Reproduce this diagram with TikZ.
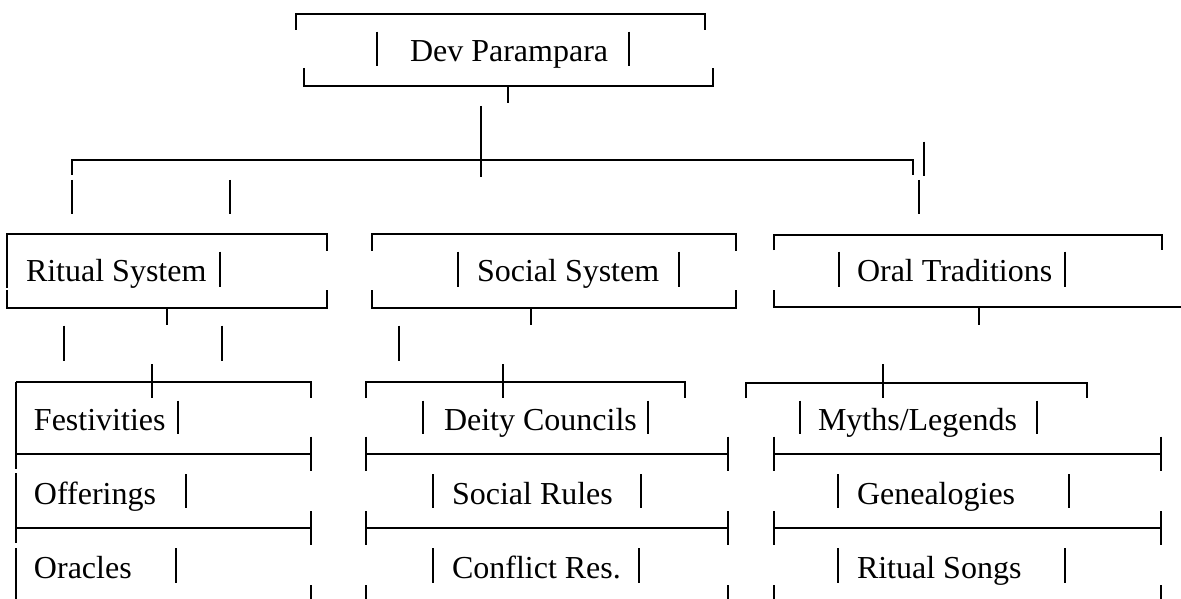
\documentclass[tikz,border=0pt]{standalone}
\usepackage{fontspec}
\setmainfont{Liberation Serif}
\begin{document}
\begin{tikzpicture}[x=1pt,y=-1pt,
  ln/.style={line width=1.7pt,line cap=butt,black},
  lbl/.style={anchor=base west,inner sep=0pt,outer sep=0pt,font=\fontsize{32}{38}\selectfont}]
\useasboundingbox (0,0) rectangle (1181,599);
% ---- texts
\node[lbl] (dev) at (410,62) {Dev Parampara};
\node[lbl] (ritual) at (26,281) {Ritual System};
\node[lbl] (social) at (477,281) {Social System};
\node[lbl] (oral) at (857,281) {Oral Traditions};
\node[lbl] (fest) at (34,430) {Festivities};
\node[lbl] (offer) at (34,504) {Offerings};
\node[lbl] (orac) at (34,578) {Oracles};
\node[lbl] (deity) at (444,430) {Deity Councils};
\node[lbl] (rules) at (452,504) {Social Rules};
\node[lbl] (confl) at (452,578) {Conflict Res.};
\node[lbl] (myths) at (818,430) {Myths/Legends};
\node[lbl] (geneal) at (857,504) {Genealogies};
\node[lbl] (songs) at (857,578) {Ritual Songs};
% ---- text bars
\foreach \x in {376.7,629} \draw[ln] (\x,31.7)--(\x,66);
\foreach \x in {220,458.3,679.3,839,1065} \draw[ln] (\x,251.7)--(\x,286.7);
\foreach \x in {178.3,423.3,648.3,800,1036.7} \draw[ln] (\x,400.7)--(\x,434);
\foreach \x in {186,432.7,641,838.3,1069.3} \draw[ln] (\x,474)--(\x,508);
\foreach \x in {175.7,432.7,639.3,838.3,1065} \draw[ln] (\x,548)--(\x,583);
% ---- top box
\draw[ln] (296,30)--(296,14)--(705,14)--(705,30);
\draw[ln] (304,68)--(304,86)--(713,86)--(713,68);
\draw[ln] (508.3,86)--(508.3,102.7);
\draw[ln] (480.7,106)--(480.7,176.7);
% ---- main branch line
\draw[ln] (72.3,175)--(72.3,160)--(912.7,160)--(912.7,175);
\draw[ln] (924,141.7)--(924,176);
\foreach \x in {72.3,230,919.3} \draw[ln] (\x,180)--(\x,214);
% ---- ritual box
\draw[ln] (7.3,288)--(7.3,234)--(326.7,234)--(326.7,250.7);
\draw[ln] (7.3,290)--(7.3,307.7)--(326.7,307.7)--(326.7,290);
\draw[ln] (166.7,307.7)--(166.7,325);
% ---- social box
\draw[ln] (372.3,250.7)--(372.3,234)--(736,234)--(736,250.7);
\draw[ln] (372.3,290)--(372.3,307.7)--(736,307.7)--(736,290);
\draw[ln] (530.7,307.7)--(530.7,325);
% ---- oral box
\draw[ln] (774.3,250)--(774.3,235)--(1161.7,235)--(1161.7,250);
\draw[ln] (774.3,290)--(774.3,307.3)--(1181,307.3);
\draw[ln] (979,307.3)--(979,325);
% ---- intermediate verticals
\foreach \x in {64.3,222.3,399} \draw[ln] (\x,325.7)--(\x,361);
\foreach \x in {152.3,502.7,883.3} \draw[ln] (\x,364)--(\x,398);
% ---- ritual list
\draw[ln] (16,381.7)--(311,381.7)--(311,398);
\draw[ln] (16,381.7)--(16,469.3);
\draw[ln] (16,473.3)--(16,543.3);
\draw[ln] (16,548.3)--(16,599);
\draw[ln] (16,454)--(311,454);
\draw[ln] (16,528.3)--(311,528.3);
\draw[ln] (311,436.7)--(311,470.7);
\draw[ln] (311,511)--(311,545);
\draw[ln] (311,585)--(311,599);
% ---- social list
\draw[ln] (366,398)--(366,381.7)--(685,381.7)--(685,398);
\draw[ln] (366,454)--(728.3,454);
\draw[ln] (366,528.3)--(728.3,528.3);
\foreach \x in {366,728.3} {
  \draw[ln] (\x,436.7)--(\x,470.7);
  \draw[ln] (\x,511)--(\x,545);
  \draw[ln] (\x,585)--(\x,599);
}
% ---- oral list
\draw[ln] (746,398)--(746,382.7)--(1086.7,382.7)--(1086.7,398);
\draw[ln] (774.3,454)--(1160.7,454);
\draw[ln] (774.3,528.3)--(1160.7,528.3);
\foreach \x in {774.3,1160.7} {
  \draw[ln] (\x,436.7)--(\x,470.7);
  \draw[ln] (\x,511)--(\x,545);
  \draw[ln] (\x,585)--(\x,599);
}
\end{tikzpicture}
\end{document}
